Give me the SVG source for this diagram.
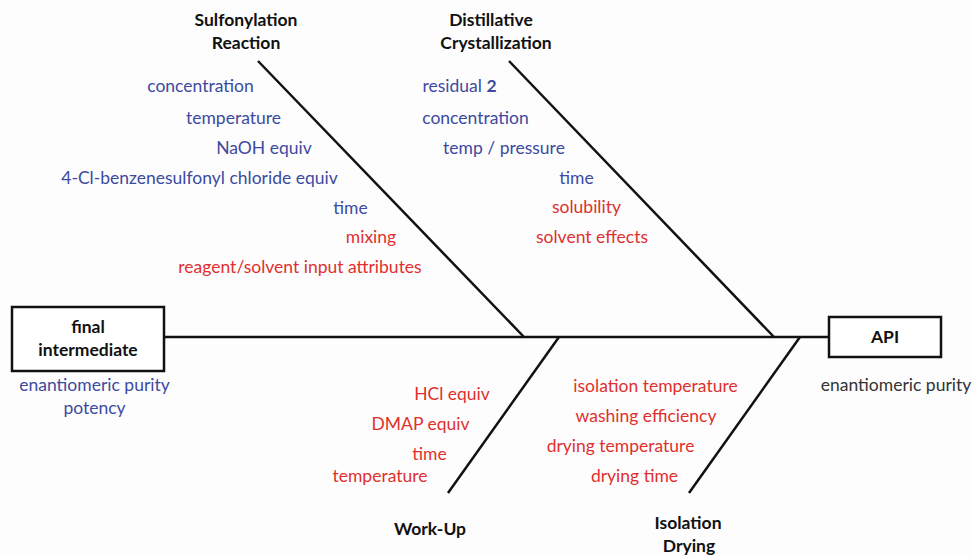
<svg xmlns="http://www.w3.org/2000/svg" width="972" height="556" viewBox="0 0 972 556">
<style>
text{font-family:Lato,"Open Sans","Liberation Sans",sans-serif;font-size:17.5px;text-anchor:middle}
.h{font-weight:bold;fill:#111}
.b{fill:#3c4aa0}
.r{fill:#e0302e}
.g{fill:#333}
.ln{stroke:#111;stroke-width:2.5;fill:none}
.box{stroke:#111;stroke-width:2.5;fill:#fff}
</style>
<rect width="972" height="556" fill="#fdfdfd"/>
<g id="connectors">
<line class="ln" x1="164" y1="337" x2="829" y2="337"/>
<line class="ln" x1="258" y1="61" x2="524" y2="337"/>
<line class="ln" x1="509" y1="61" x2="774" y2="337"/>
<line class="ln" x1="559" y1="337" x2="448" y2="493"/>
<line class="ln" x1="800" y1="337" x2="689" y2="493"/>
</g>
<g id="final-intermediate">
<rect class="box" x="12" y="307" width="152" height="64"/>
<text class="h" x="88" y="333">final</text>
<text class="h" x="88" y="356">intermediate</text>
<text class="b" x="94.5" y="391">enantiomeric purity</text>
<text class="b" x="94.5" y="414">potency</text>
</g>
<g id="api">
<rect class="box" x="829" y="317" width="112" height="40"/>
<text class="h" x="885" y="343">API</text>
<text class="g" x="896" y="391">enantiomeric purity</text>
</g>
<g id="sulfonylation">
<text class="h" x="246" y="26">Sulfonylation</text>
<text class="h" x="246" y="49">Reaction</text>
<text class="b" x="200.5" y="92">concentration</text>
<text class="b" x="233.5" y="124">temperature</text>
<text class="b" x="264" y="154">NaOH equiv</text>
<text class="b" x="199.5" y="184">4-Cl-benzenesulfonyl chloride equiv</text>
<text class="b" x="350.5" y="214">time</text>
<text class="r" x="371" y="243">mixing</text>
<text class="r" x="300" y="273">reagent/solvent input attributes</text>
</g>
<g id="distillative">
<text class="h" x="491" y="26">Distillative</text>
<text class="h" x="496" y="49">Crystallization</text>
<text class="b" x="459.5" y="92">residual <tspan font-weight="bold">2</tspan></text>
<text class="b" x="475.5" y="124">concentration</text>
<text class="b" x="504" y="154">temp / pressure</text>
<text class="b" x="576.5" y="184">time</text>
<text class="r" x="586.5" y="213">solubility</text>
<text class="r" x="592" y="243">solvent effects</text>
</g>
<g id="workup">
<text class="r" x="452" y="400">HCl equiv</text>
<text class="r" x="420.5" y="430">DMAP equiv</text>
<text class="r" x="429.5" y="460">time</text>
<text class="r" x="380" y="482">temperature</text>
<text class="h" x="430" y="535">Work-Up</text>
</g>
<g id="isolation">
<text class="r" x="655.5" y="392">isolation temperature</text>
<text class="r" x="646" y="422">washing efficiency</text>
<text class="r" x="620.5" y="452">drying temperature</text>
<text class="r" x="634.5" y="482">drying time</text>
<text class="h" x="688" y="529">Isolation</text>
<text class="h" x="689" y="552">Drying</text>
</g>
</svg>
